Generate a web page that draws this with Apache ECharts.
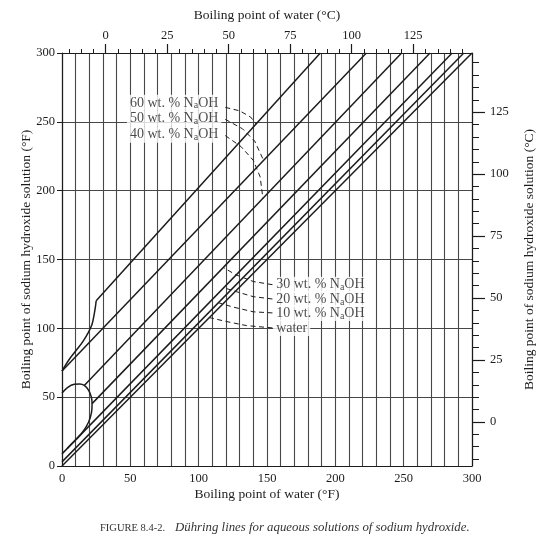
<!DOCTYPE html>
<html><head><meta charset="utf-8">
<script src="https://cdn.jsdelivr.net/npm/echarts@6/dist/echarts.min.js"></script>
<style>html,body{margin:0;padding:0;background:#fff}#c{width:553px;height:552px}</style>
</head><body><div id="c"></div>
<script>
// ---- tick labels ----
const fTicks = [0, 50, 100, 150, 200, 250, 300];
const cMajor = [0, 25, 50, 75, 100, 125];
const cMinor = [-15, -10, -5, 0, 5, 10, 15, 20, 25, 30, 35, 40, 45, 50, 55, 60, 65, 70, 75,
                80, 85, 90, 95, 100, 105, 110, 115, 120, 125, 130, 135, 140, 145];

// ---- Duhring lines [water bp °F, solution bp °F] ----
const water  = [[0, 0], [300, 300]];
const naoh10 = [[0, 3], [294, 300]];
const naoh20 = [[0, 8.8], [285.5, 300]];
const naoh30 = [[22, 45.3], [269.3, 300]];
const naoh40 = [[16.3, 58.5], [248.5, 300]];
const naoh50 = [[0, 69], [222.7, 300]];
const naoh60 = [[25, 120], [189, 300]];
const crystalCurve = [[0, 69], [5, 77], [10, 83.5], [15, 90], [19, 96.5], [22, 103], [23.7, 111], [24.5, 116], [25, 120]];
const loopCurve = [[0, 53], [4, 57], [9, 59.3], [13, 59.5], [16.3, 58.5], [19.5, 55], [21.5, 50], [22, 45.3],
                   [21.6, 39], [19.5, 32], [15, 24.5], [10, 19], [4, 12.9]];

// ---- labels ----
const upperLabels = ['60 wt. % N{s|a}OH', '50 wt. % N{s|a}OH', '40 wt. % N{s|a}OH'];
const upperLabelX = [47.5, 47.5, 47.5];
const upperLabelY = [263.8, 252.2, 240.6];
const lowerLabels = ['30 wt. % N{s|a}OH', '20 wt. % N{s|a}OH', '10 wt. % N{s|a}OH', 'water'];
const lowerLabelX = [154.5, 154.5, 154.5, 154.5];
const lowerLabelY = [131.7, 121.3, 111.2, 100.3];

// ---- leader paths (dashed, arrow at end) ----
const leaders = [
  [[119.5, 260.5], [130, 258], [138, 253.5], [142, 248.4]],
  [[119.5, 251.8], [132, 245], [141, 236], [147.5, 222]],
  [[119.5, 240], [131, 232], [140, 222], [145, 210], [147, 194.4]],
  [[154, 131.7], [140, 134], [127, 139], [118, 144.2]],
  [[154, 121.3], [140, 123], [128, 126.5], [118.3, 129.5]],
  [[154, 111.2], [140, 112], [125, 115.5], [114.5, 118.6]],
  [[154, 100.3], [135, 102], [120, 105], [107.8, 107.8]]
];

const serif = '"Liberation Serif","DejaVu Serif",serif';
const ink = '#1c1c1c';
const gridColor = '#474747';
const toF = c => c * 9 / 5 + 32;
const toC = f => Math.round((f - 32) * 5 / 9);

const chart = echarts.init(document.getElementById('c'));

const lineSeries = pts => ({
  type: 'line', data: pts, symbol: 'none', showSymbol: false, silent: true, z: 3,
  lineStyle: { color: ink, width: 1.5 }, xAxisIndex: 0, yAxisIndex: 0
});
const curveSeries = pts => Object.assign(lineSeries(pts), { smooth: 0.35 });

const richStyle = {
  s: { fontFamily: serif, fontSize: 10, color: ink, padding: [6, 0, 0, 0] }
};
const labelSeries = (texts, xs, ys) => ({
  type: 'scatter', symbolSize: 0, silent: true, z: 6, xAxisIndex: 0, yAxisIndex: 0,
  data: texts.map((t, i) => ({ value: [xs[i], ys[i]], label: { formatter: t } })),
  label: {
    show: true, position: 'right', distance: 0,
    fontFamily: serif, fontSize: 14, color: ink,
    backgroundColor: '#fff', padding: [1, 3, 1, 3], lineHeight: 14,
    rich: richStyle
  }
});

const axisName = { fontFamily: serif, fontSize: 13.5, color: ink };
const tickLbl = { fontFamily: serif, fontSize: 12.5, color: ink };
const axLine = { show: true, onZero: false, lineStyle: { color: ink, width: 1.2 } };
const noLine = { show: false, onZero: false };

const option = {
  animation: false,
  backgroundColor: '#fff',
  title: {
    text: '{a|FIGURE 8.4-2.}  {b|Dühring lines for aqueous solutions of sodium hydroxide.}',
    left: 95, top: 514,
    textStyle: {
      fontWeight: 'normal',
      rich: {
        a: { fontFamily: serif, fontSize: 10.5, color: '#333', fontWeight: 'normal' },
        b: { fontFamily: serif, fontSize: 12.8, fontStyle: 'italic', color: '#333', fontWeight: 'normal' }
      }
    }
  },
  grid: { left: 62, right: 81, top: 53, bottom: 86 },
  xAxis: [
    {
      type: 'value', min: 0, max: 300, interval: 10, position: 'bottom',
      axisLine: axLine,
      axisTick: { show: false },
      splitLine: { show: true, lineStyle: { color: gridColor, width: 1.1 } },
      axisLabel: Object.assign({ formatter: v => fTicks.includes(v) ? String(v) : '', margin: 6 }, tickLbl),
      name: 'Boiling point of water (°F)', nameLocation: 'middle', nameGap: 21, nameMoveOverlap: false,
      nameTextStyle: axisName
    },
    {
      type: 'value', min: 0, max: 300, position: 'top',
      axisLine: axLine,
      splitLine: { show: false },
      axisTick: { show: true, customValues: cMinor.map(toF), length: 4, lineStyle: { color: ink } },
      axisLabel: Object.assign({ customValues: cMajor.map(toF), formatter: v => String(toC(v)), margin: 11 }, tickLbl),
      name: 'Boiling point of water (°C)', nameLocation: 'middle', nameGap: 31, nameMoveOverlap: false,
      nameTextStyle: axisName
    },
    {
      type: 'value', min: 0, max: 300, position: 'top',
      axisLine: noLine, splitLine: { show: false },
      axisTick: { show: true, customValues: cMajor.map(toF), length: 9, lineStyle: { color: ink, width: 1.2 } },
      axisLabel: { show: false }
    }
  ],
  yAxis: [
    {
      type: 'value', min: 0, max: 300, interval: 10, position: 'left',
      axisLine: axLine,
      axisTick: { show: true, customValues: fTicks, length: 5, lineStyle: { color: ink } },
      splitLine: { show: true, lineStyle: { color: gridColor, width: 1.1 } },
      axisLabel: Object.assign({ formatter: v => fTicks.includes(v) ? String(v) : '', margin: 7 }, tickLbl),
      name: 'Boiling point of sodium hydroxide solution (°F)', nameLocation: 'middle', nameGap: 29,
      nameMoveOverlap: false, nameRotate: 90, nameTextStyle: axisName
    },
    {
      type: 'value', min: 0, max: 300, position: 'right',
      axisLine: axLine,
      splitLine: { show: false },
      axisTick: { show: true, customValues: cMinor.map(toF), length: 7, lineStyle: { color: ink } },
      axisLabel: Object.assign({ customValues: cMajor.map(toF), formatter: v => String(toC(v)), margin: 18 }, tickLbl),
      name: 'Boiling point of sodium hydroxide solution (°C)', nameLocation: 'middle', nameGap: 50,
      nameMoveOverlap: false, nameRotate: 90, nameTextStyle: axisName
    },
    {
      type: 'value', min: 0, max: 300, position: 'right',
      axisLine: noLine, splitLine: { show: false },
      axisTick: { show: true, customValues: cMajor.map(toF), length: 13, lineStyle: { color: ink, width: 1.2 } },
      axisLabel: { show: false }
    }
  ],
  series: [
    lineSeries(water), lineSeries(naoh10), lineSeries(naoh20), lineSeries(naoh30),
    lineSeries(naoh40), lineSeries(naoh50), lineSeries(naoh60),
    curveSeries(crystalCurve), curveSeries(loopCurve),
    {
      type: 'lines', coordinateSystem: 'cartesian2d', xAxisIndex: 0, yAxisIndex: 0,
      polyline: true, silent: true, z: 5,
      symbol: ['none', 'arrow'], symbolSize: 6,
      lineStyle: { color: ink, width: 1, type: [5, 3.5], opacity: 1 },
      data: leaders.map(p => ({ coords: p }))
    },
    labelSeries(upperLabels, upperLabelX, upperLabelY),
    labelSeries(lowerLabels, lowerLabelX, lowerLabelY)
  ]
};
chart.setOption(option);
</script>
</body></html>
